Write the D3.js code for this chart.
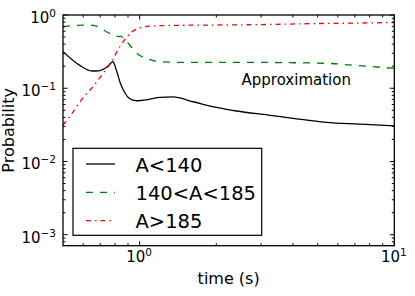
<!DOCTYPE html>
<html><head><meta charset="utf-8">
<script src="https://cdn.jsdelivr.net/npm/d3@7"></script>
<style>body{margin:0;background:#fff}svg{display:block;font-family:"DejaVu Sans",sans-serif}</style>
</head><body><svg id="c" width="415" height="296"></svg>
<script>
const blackT = [0.5,0.58,0.65,0.69,0.75,0.785,0.81,0.84,0.86,0.91,0.97,1.09,1.2,1.35,1.62,2.0,2.4,3.2,4.0,5.4,7.3,10];
const blackP = [0.316,0.207,0.172,0.173,0.2,0.23,0.177,0.117,0.097,0.073,0.0675,0.0705,0.075,0.076,0.0654,0.0548,0.0489,0.043,0.0388,0.0342,0.0324,0.0307];
const greenT = [0.5,0.56,0.63,0.67,0.705,0.74,0.78,0.80,0.83,0.845,0.87,0.9,0.934,0.99,1.04,1.1,1.2,1.5,2,3,4,5.4,7.3,10];
const greenP = [0.69,0.72,0.73,0.71,0.66,0.59,0.54,0.528,0.508,0.515,0.465,0.414,0.354,0.287,0.264,0.245,0.23,0.225,0.225,0.225,0.223,0.219,0.203,0.187];
const redT = [0.5,0.537,0.597,0.663,0.72,0.76,0.778,0.812,0.845,0.889,0.939,0.98,1.02,1.1,1.2,1.5,2,3,5,7,10];
const redP = [0.0314,0.043,0.0728,0.11,0.161,0.207,0.233,0.309,0.393,0.496,0.598,0.65,0.68,0.705,0.714,0.725,0.73,0.74,0.765,0.775,0.79];
const seriesNames = ["A<140","140<A<185","A>185"];
const xMajorTicks = [1,10];
const yMajorTicks = [1,0.1,0.01,0.001];
const xLabel = "time (s)", yLabel = "Probability", annotation = "Approximation";

const L=63, R=394.3, T=15, B=245.7;
const x = d3.scaleLog().domain([0.5,10]).range([L,R]);
const y = d3.scaleLog().domain([Math.pow(10,-3.15),1]).range([B,T]);
const svg = d3.select("#c");
svg.append("rect").attr("width",415).attr("height",296).attr("fill","#fff");
svg.append("defs").append("clipPath").attr("id","clip").append("rect")
  .attr("x",L).attr("y",T).attr("width",R-L).attr("height",B-T);

const series = [
  {t:blackT,p:blackP,color:"#000",dash:null,w:1.3},
  {t:greenT,p:greenP,color:"#008000",dash:"7,7",w:1.3},
  {t:redT,p:redP,color:"#ff0000",dash:"5,4,1.5,4",w:1.3}
];
const line = d3.line().x(d=>x(d[0])).y(d=>y(d[1])).curve(d3.curveMonotoneX);
const g = svg.append("g").attr("clip-path","url(#clip)");
series.forEach(s=>{
  g.append("path").datum(s.t.map((t,i)=>[t,s.p[i]]))
    .attr("d",line).attr("fill","none").attr("stroke",s.color)
    .attr("stroke-width",s.w).attr("stroke-dasharray",s.dash);
});

// ticks (inward, all sides)
const xMinor = x.ticks().filter(v=>!xMajorTicks.includes(v) && v>0.5 && v<10);
const yMinor = y.ticks().filter(v=>!yMajorTicks.some(m=>Math.abs(m-v)<1e-12) && v>y.domain()[0] && v<1);
const tk = svg.append("g").attr("stroke","#000").attr("stroke-width",1);
function xt(v,len){ const px=x(v);
  tk.append("line").attr("x1",px).attr("x2",px).attr("y1",B).attr("y2",B-len);
  tk.append("line").attr("x1",px).attr("x2",px).attr("y1",T).attr("y2",T+len);}
function yt(v,len){ const py=y(v);
  tk.append("line").attr("x1",L).attr("x2",L+len).attr("y1",py).attr("y2",py);
  tk.append("line").attr("x1",R).attr("x2",R-len).attr("y1",py).attr("y2",py);}
xMajorTicks.forEach(v=>xt(v,4.5)); xMinor.forEach(v=>xt(v,2.5));
yMajorTicks.forEach(v=>yt(v,4.5)); yMinor.forEach(v=>yt(v,2.5));

svg.append("rect").attr("x",L).attr("y",T).attr("width",R-L).attr("height",B-T)
  .attr("fill","none").attr("stroke","#000").attr("stroke-width",1.3);

function expLabel(sel, v){
  const e = Math.round(Math.log10(v));
  sel.append("tspan").text("10");
  sel.append("tspan").attr("font-size","10.5px").attr("dy",-6).text(e<0?"\u2212"+(-e):String(e));
}
yMajorTicks.forEach(v=>{
  const t = svg.append("text").attr("x",56).attr("y",y(v)+8).attr("text-anchor","end")
    .attr("font-size","15px").attr("fill","#000");
  expLabel(t,v);
});
xMajorTicks.forEach(v=>{
  const t = svg.append("text").attr("x",x(v)-0.5).attr("y",262).attr("text-anchor","middle")
    .attr("font-size","15px").attr("fill","#000");
  expLabel(t,v);
});
svg.append("text").attr("x",(L+R)/2).attr("y",284).attr("text-anchor","middle")
  .attr("font-size","16px").text(xLabel);
svg.append("text").attr("transform",`translate(14,${(T+B)/2}) rotate(-90)`)
  .attr("text-anchor","middle").attr("font-size","16px").text(yLabel);
svg.append("text").attr("x",241.5).attr("y",85).attr("font-size","15px").text(annotation);

// legend
const lg = svg.append("g");
lg.append("rect").attr("x",73).attr("y",148.3).attr("width",188.7).attr("height",87)
  .attr("fill","#fff").attr("stroke","#000").attr("stroke-width",1.2);
series.forEach((s,i)=>{
  const yy = 164 + i*28.35;
  lg.append("line").attr("x1",86).attr("x2",115).attr("y1",yy).attr("y2",yy)
    .attr("stroke",s.color).attr("stroke-width",s.w).attr("stroke-dasharray",s.dash);
  lg.append("text").attr("x",135.5).attr("y",yy+7.6).attr("font-size","19.5px").text(seriesNames[i]);
});
</script></body></html>
